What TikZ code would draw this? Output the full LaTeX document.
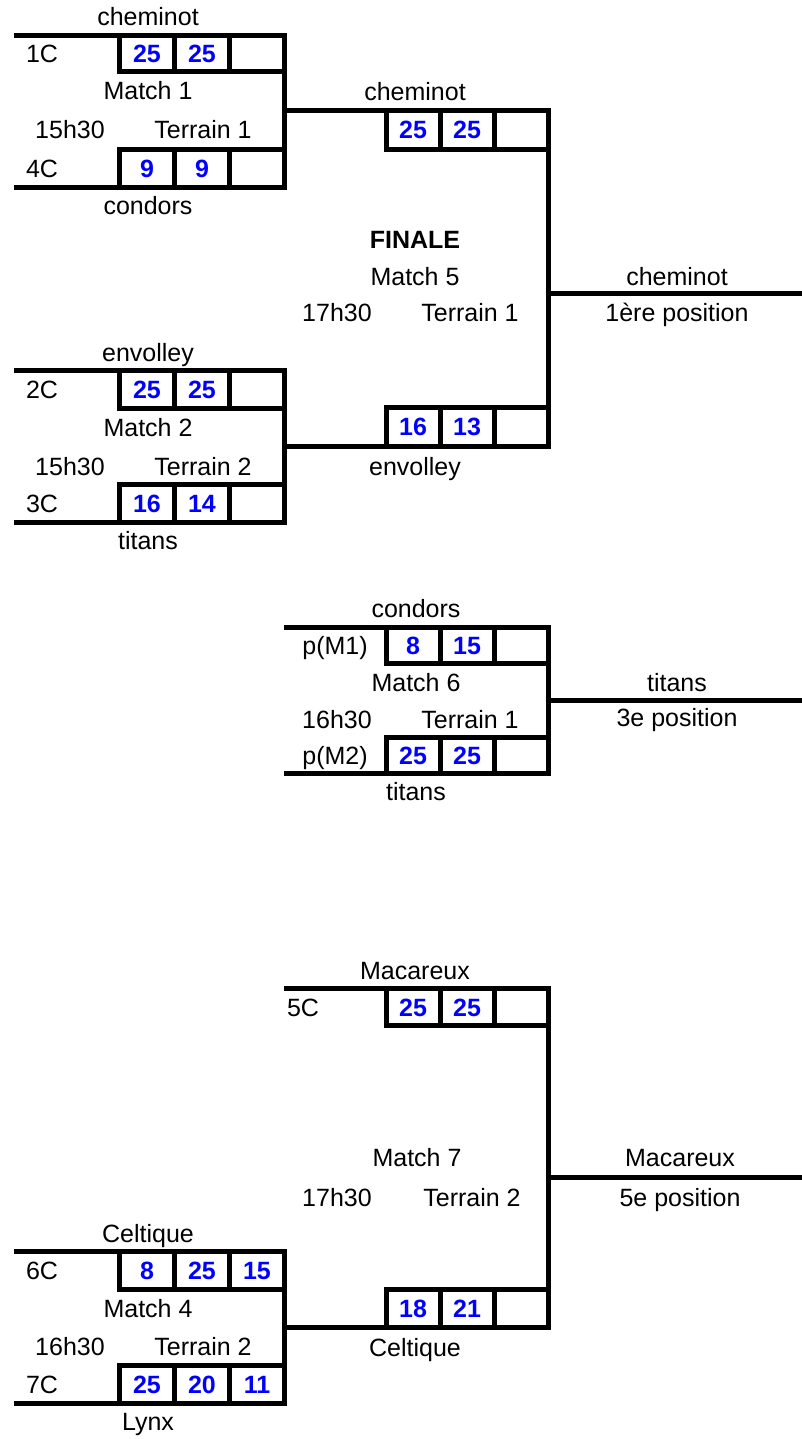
\documentclass[tikz,border=0pt]{standalone}
\usepackage{fontspec}
\setmainfont{Liberation Sans}
\newcommand\scoregrid[4]{% x0, ytop, ybot, column width
  \draw[ln] (#1,#2) rectangle ({#1+3*#4},#3);
  \draw[ln] ({#1+#4},#2) -- ({#1+#4},#3) ({#1+2*#4},#2) -- ({#1+2*#4},#3);
}
\newcommand\tx[4]{\node[t] (#1) at (#2,{#3+9}) {#4};}
\newcommand\sx[4]{\node[s] (#1) at (#2,{#3+9}) {#4};}
\begin{document}
\begin{tikzpicture}[x=1pt,y=-1pt,
  ln/.style={line width=5pt},
  t/.style={anchor=base,inner sep=0pt,font=\fontsize{25}{30}\selectfont},
  s/.style={anchor=base,inner sep=0pt,text=blue,font=\fontsize{25}{30}\selectfont\bfseries}]
\useasboundingbox (0,0) rectangle (802,1439);

% ---------- Match 1 ----------
\draw[ln] (14,36) -- (284,36) -- (284,188) -- (14,188);
\scoregrid{119}{36}{72}{55}
\scoregrid{119}{150}{188}{55}
\coordinate (m1out) at (284,111);
\tx{m1top}{148}{17}{cheminot}
\tx{m1a}{42}{54}{1C}
\sx{m1a1}{147}{54}{25}
\sx{m1a2}{202}{54}{25}
\tx{m1name}{148}{91}{Match 1}
\tx{m1time}{70}{130}{15h30}
\tx{m1field}{203}{130}{Terrain 1}
\tx{m1b}{42}{169}{4C}
\sx{m1b1}{147}{169}{9}
\sx{m1b2}{202}{169}{9}
\tx{m1bot}{148}{206}{condors}

% ---------- Match 2 ----------
\draw[ln] (14,370) -- (284,370) -- (284,522) -- (14,522);
\scoregrid{119}{370}{408}{55}
\scoregrid{119}{484}{522}{55}
\coordinate (m2out) at (284,446);
\tx{m2top}{148}{352}{envolley}
\tx{m2a}{42}{389}{2C}
\sx{m2a1}{147}{389}{25}
\sx{m2a2}{202}{389}{25}
\tx{m2name}{148}{427}{Match 2}
\tx{m2time}{70}{466}{15h30}
\tx{m2field}{203}{466}{Terrain 2}
\tx{m2b}{42}{503}{3C}
\sx{m2b1}{147}{503}{16}
\sx{m2b2}{202}{503}{14}
\tx{m2bot}{148}{540}{titans}

% ---------- Match 5 (FINALE) ----------
\coordinate (m5tr) at (548,111);
\coordinate (m5br) at (548,446);
\coordinate (m5out) at (548,293);
\coordinate (r1end) at (802,293);
\draw[ln] (m1out) -- (m5tr) -- (m5br) -- (m2out);
\scoregrid{386}{111}{150}{54}
\scoregrid{386}{407}{446}{54}
\draw[ln] (m5out) -- (r1end);
\tx{m5top}{415}{92}{cheminot}
\sx{m5a1}{413}{130}{25}
\sx{m5a2}{467}{130}{25}
\node[s,text=black] (m5fin) at (415,249) {FINALE};
\tx{m5name}{415}{276}{Match 5}
\tx{m5time}{337}{312}{17h30}
\tx{m5field}{470}{312}{Terrain 1}
\sx{m5b1}{413}{426}{16}
\sx{m5b2}{467}{426}{13}
\tx{m5bot}{415}{466}{envolley}
\tx{r1win}{677}{276}{cheminot}
\tx{r1pos}{677}{312}{1ère position}

% ---------- Match 6 ----------
\coordinate (m6out) at (548,700);
\coordinate (r3end) at (802,700);
\draw[ln] (284,627) -- (548,627) -- (548,773) -- (284,773);
\scoregrid{386}{627}{663}{54}
\scoregrid{386}{737}{773}{54}
\draw[ln] (m6out) -- (r3end);
\tx{m6top}{416}{608}{condors}
\tx{m6a}{335}{645}{p(M1)}
\sx{m6a1}{413}{645}{8}
\sx{m6a2}{467}{645}{15}
\tx{m6name}{416}{682}{Match 6}
\tx{m6time}{337}{719}{16h30}
\tx{m6field}{470}{719}{Terrain 1}
\tx{m6b}{335}{755}{p(M2)}
\sx{m6b1}{413}{755}{25}
\sx{m6b2}{467}{755}{25}
\tx{m6bot}{416}{791}{titans}
\tx{r3win}{677}{682}{titans}
\tx{r3pos}{677}{717}{3e position}

% ---------- Match 4 ----------
\draw[ln] (14,1251) -- (284,1251) -- (284,1403) -- (14,1403);
\scoregrid{119}{1251}{1289}{55}
\scoregrid{119}{1365}{1403}{55}
\coordinate (m4out) at (284,1327);
\tx{m4top}{148}{1233}{Celtique}
\tx{m4a}{42}{1270}{6C}
\sx{m4a1}{147}{1270}{8}
\sx{m4a2}{202}{1270}{25}
\sx{m4a3}{257}{1270}{15}
\tx{m4name}{148}{1308}{Match 4}
\tx{m4time}{70}{1346}{16h30}
\tx{m4field}{203}{1346}{Terrain 2}
\tx{m4b}{42}{1384}{7C}
\sx{m4b1}{147}{1384}{25}
\sx{m4b2}{202}{1384}{20}
\sx{m4b3}{257}{1384}{11}
\tx{m4bot}{148}{1421}{Lynx}

% ---------- Match 7 ----------
\coordinate (m7tl) at (284,988);
\coordinate (m7tr) at (548,988);
\coordinate (m7br) at (548,1327);
\coordinate (m7out) at (548,1177);
\coordinate (r5end) at (802,1177);
\draw[ln] (m7tl) -- (m7tr) -- (m7br) -- (m4out);
\scoregrid{386}{988}{1025}{54}
\scoregrid{386}{1289}{1327}{54}
\draw[ln] (m7out) -- (r5end);
\tx{m7top}{415}{970}{Macareux}
\tx{m7a}{303}{1007}{5C}
\sx{m7a1}{413}{1007}{25}
\sx{m7a2}{467}{1007}{25}
\tx{m7name}{417}{1157}{Match 7}
\tx{m7time}{337}{1197}{17h30}
\tx{m7field}{472}{1197}{Terrain 2}
\sx{m7b1}{413}{1308}{18}
\sx{m7b2}{467}{1308}{21}
\tx{m7bot}{415}{1347}{Celtique}
\tx{r5win}{680}{1157}{Macareux}
\tx{r5pos}{680}{1197}{5e position}
\end{tikzpicture}
\end{document}
